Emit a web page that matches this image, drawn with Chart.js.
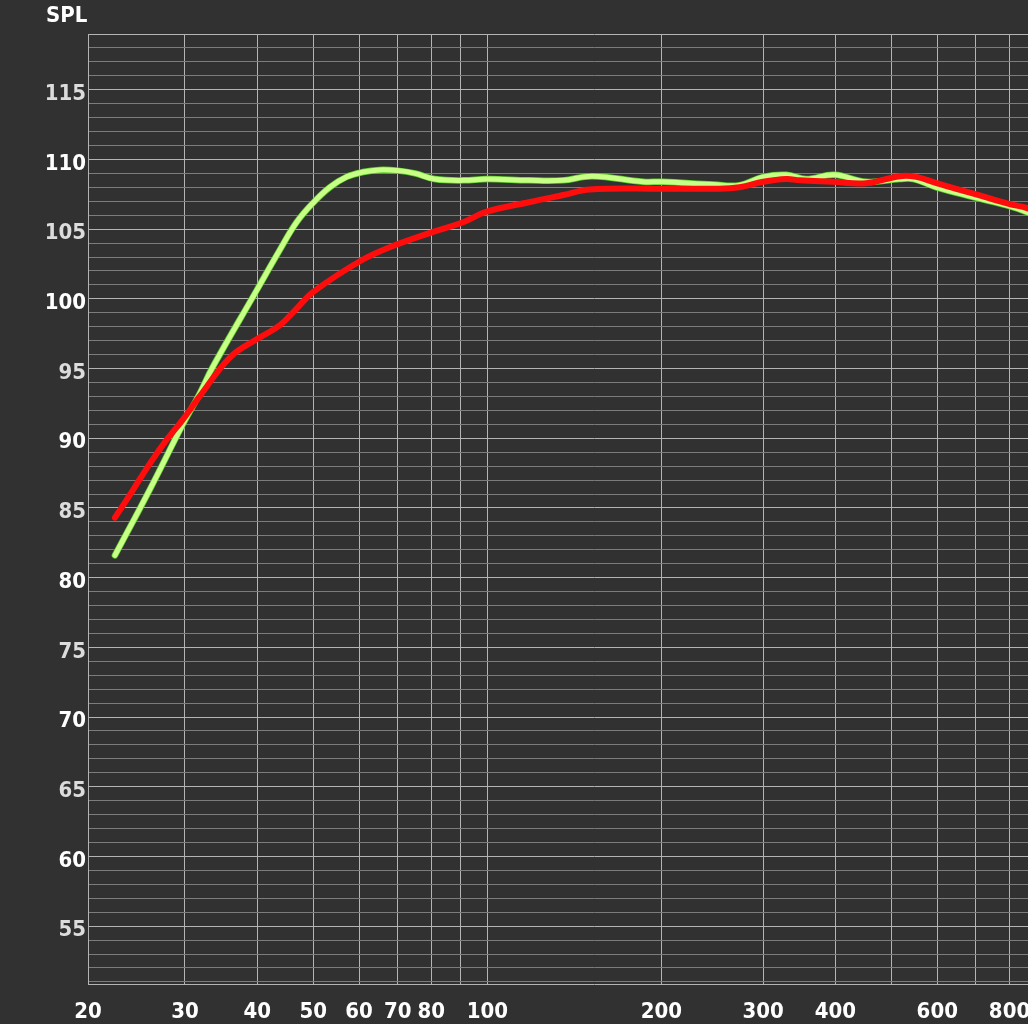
<!DOCTYPE html>
<html>
<head>
<meta charset="utf-8">
<script src="https://cdn.jsdelivr.net/npm/chart.js@4.4.0/dist/chart.umd.min.js"></script>
<style>
  html, body { margin: 0; padding: 0; background: #313131; overflow: hidden; }
  #wrap { width: 1100px; height: 1024px; }
</style>
</head>
<body>
<div id="wrap"><canvas id="spl-chart" width="1100" height="1024"></canvas></div>
<script>
// Frequency grid (Hz) and which of those get a label
var xGrid = [20, 30, 40, 50, 60, 70, 80, 90, 100, 200, 300, 400, 500, 600, 700, 800, 900, 1000];
var xLabels = [20, 30, 40, 50, 60, 70, 80, 100, 200, 300, 400, 600, 800];
var yLabels = [55, 60, 65, 70, 75, 80, 85, 90, 95, 100, 105, 110, 115];

// Green response
var greenFreq = [22.7, 26.1, 29.7, 31.8, 33.5, 39.9, 43.75, 46.8, 50, 53.4, 57.1, 61, 65, 70, 75, 81, 91, 100, 118, 135, 152, 186, 201, 246, 273, 300, 329, 356, 398, 452, 517, 546, 598, 693, 792, 860, 900];
var greenSpl = [81.6, 86.35, 90.95, 93.2, 95.1, 100.6, 103.5, 105.5, 106.9, 108.0, 108.75, 109.1, 109.25, 109.2, 109.0, 108.6, 108.5, 108.6, 108.5, 108.5, 108.8, 108.4, 108.4, 108.2, 108.15, 108.75, 108.9, 108.6, 108.9, 108.4, 108.6, 108.6, 108.0, 107.3, 106.7, 106.2, 105.8];

// Red response
var redFreq = [22.7, 24.4, 26.1, 27.9, 29.7, 31.8, 35.9, 39.9, 43.75, 46.8, 50, 60.2, 67.8, 80.6, 90.8, 99.7, 118.5, 135.3, 150.4, 201, 246, 273, 300, 329, 347, 396, 452, 517, 552, 598, 693, 792, 860, 900];
var redSpl = [84.3, 86.3, 88.2, 89.9, 91.3, 93.0, 95.8, 97.1, 98.1, 99.3, 100.5, 102.7, 103.7, 104.8, 105.5, 106.25, 106.95, 107.45, 107.85, 107.9, 107.9, 108.0, 108.4, 108.6, 108.5, 108.4, 108.3, 108.8, 108.75, 108.3, 107.55, 106.85, 106.5, 106.2];

var xMin = 20.39, xMax = 1147;
var yMin = 50.85, yMax = 119;

function toPoints(fs, vs) {
  return fs.map(function (f, i) { return { x: f, y: vs[i] }; });
}

var bgPlugin = {
  id: 'bg',
  beforeDraw: function (chart) {
    var c = chart.ctx;
    c.save();
    c.fillStyle = '#313131';
    c.fillRect(0, 0, chart.width, chart.height);
    c.restore();
  },
  afterDraw: function (chart) {
    var c = chart.ctx;
    c.save();
    c.font = 'bold 22px "DejaVu Sans Condensed", "DejaVu Sans", sans-serif';
    c.fillStyle = '#ffffff';
    c.textBaseline = 'alphabetic';
    c.fillText('SPL', 46, 22);
    c.restore();
  }
};

var tickFont = { family: '"DejaVu Sans Condensed", "DejaVu Sans", sans-serif', size: 22, weight: 'bold' };

var ctx = document.getElementById('spl-chart').getContext('2d');

var myChart = new Chart(ctx, {
  type: 'line',
  data: {
    datasets: [{
      label: 'red',
      data: toPoints(redFreq, redSpl),
      borderColor: '#ff0d0d',
      borderWidth: 6,
      order: 0
    }, {
      label: 'green',
      data: toPoints(greenFreq, greenSpl),
      borderColor: '#c8ff86',
      borderWidth: 5,
      order: 1
    }, {
      label: 'green edge',
      data: toPoints(greenFreq, greenSpl),
      borderColor: '#5ccc2a',
      borderWidth: 6.5,
      order: 2
    }]
  },
  options: {
    responsive: false,
    animation: false,
    devicePixelRatio: 1,
    layout: { padding: { top: 34, left: 0, right: 0, bottom: 0 } },
    elements: {
      point: { radius: 0 },
      line: { tension: 0.4, borderCapStyle: 'round', borderJoinStyle: 'round', fill: false }
    },
    plugins: {
      legend: { display: false },
      tooltip: { enabled: false }
    },
    scales: {
      x: {
        type: 'logarithmic',
        min: xMin,
        max: xMax,
        afterBuildTicks: function (scale) {
          scale.ticks = xGrid.map(function (v) { return { value: Math.max(v, scale.min) }; });
        },
        afterFit: function (scale) { scale.height = 40; },
        grid: { color: '#b4b4b4', lineWidth: 1, drawTicks: false },
        border: { display: true, color: '#b4b4b4', width: 1 },
        ticks: {
          autoSkip: false,
          maxRotation: 0,
          padding: 15,
          color: '#ffffff',
          font: tickFont,
          callback: function (value, index) {
            var v = xGrid[index];
            return xLabels.indexOf(v) >= 0 ? String(v) : '';
          }
        }
      },
      y: {
        type: 'linear',
        min: yMin,
        max: yMax,
        afterBuildTicks: function (scale) {
          var t = [];
          for (var v = Math.ceil(yMin); v <= yMax; v++) t.push({ value: v });
          scale.ticks = t;
        },
        afterFit: function (scale) { scale.width = 88; },
        grid: {
          drawTicks: false,
          lineWidth: 1,
          color: function (c) {
            var v = c.tick ? c.tick.value : 0;
            return (v % 5 === 0 || v === yMax) ? '#b4b4b4' : '#7c7c7c';
          }
        },
        border: { display: true, color: '#b4b4b4', width: 1 },
        ticks: {
          autoSkip: false,
          padding: 2,
          labelOffset: 4.5,
          font: tickFont,
          color: function (c) {
            return c.tick && c.tick.value % 10 === 0 ? '#ffffff' : '#dcdcdc';
          },
          callback: function (value) {
            return yLabels.indexOf(value) >= 0 ? String(value) : '';
          }
        }
      }
    }
  },
  plugins: [bgPlugin]
});
</script>
</body>
</html>
